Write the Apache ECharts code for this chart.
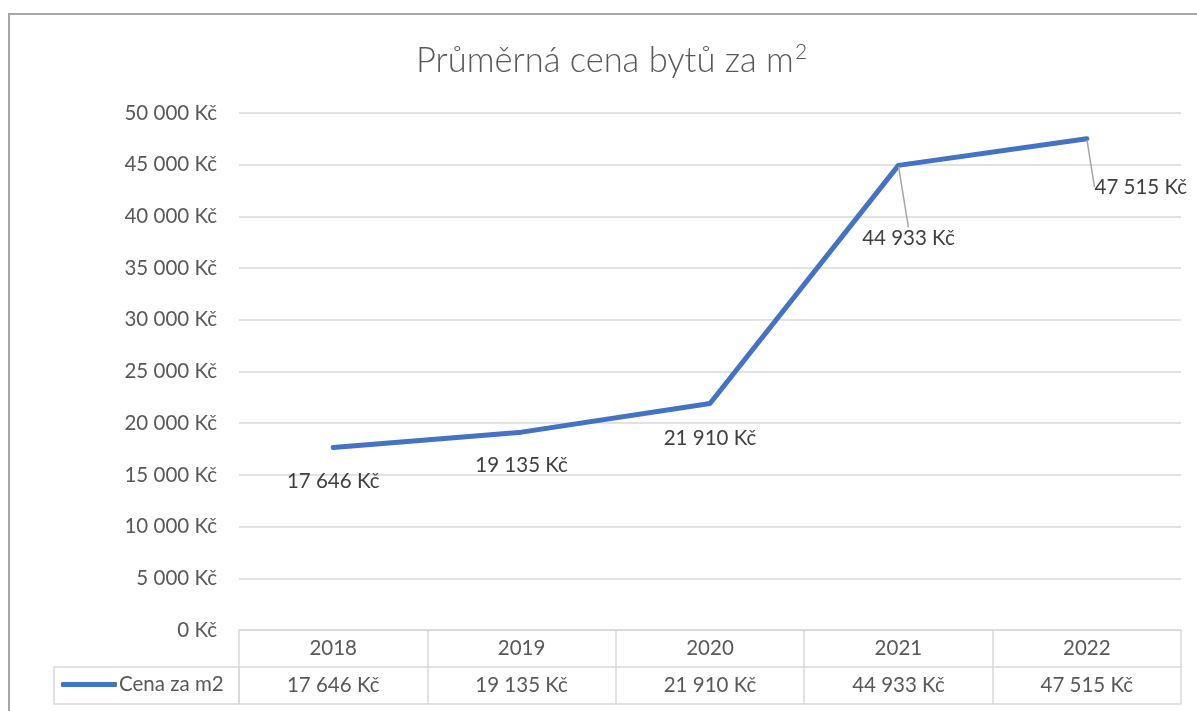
<!DOCTYPE html>
<html>
<head>
<meta charset="utf-8">
<script src="https://cdn.jsdelivr.net/npm/echarts@6/dist/echarts.min.js"></script>
<style>html,body{margin:0;padding:0;background:#fff}#c{width:1197px;height:711px}</style>
</head>
<body>
<div id="c"></div>
<script>
var categories = ['2018', '2019', '2020', '2021', '2022'];
var prices = [17646, 19135, 21910, 44933, 47515];
var seriesName = 'Cena za m2';
var yTicks = { min: 0, max: 50000, interval: 5000 };
// label shift (px) relative to default 'bottom' position, per point
var labelShift = [[0, 1], [0, 1], [0, 2], [10, 40], [54, 16]];
var labelLeader = [false, false, false, true, true];

function fmt(v) {
  return String(v).replace(/\B(?=(\d{3})+(?!\d))/g, ' ') + ' Kč';
}

var FONT = 'Lato';
var FS = 20.5;
var chart = echarts.init(document.getElementById('c'));
var grid = { left: 239, right: 16, top: 113, bottom: 81 };
var tableLine = '#d9d9d9';

chart.setOption({
  animation: false,
  textStyle: { fontFamily: FONT },
  title: {
    text: 'Průměrná cena bytů za m{sup|2}',
    left: 411,
    top: 37,
    textStyle: {
      fontFamily: FONT, fontSize: 34.5, fontWeight: 300, color: '#595959',
      rich: { sup: { fontFamily: FONT, fontSize: 21, fontWeight: 300, color: '#595959', verticalAlign: 'top', padding: [0, 0, 17, 1] } }
    }
  },
  grid: grid,
  legend: {
    left: 61, top: 674, padding: 0,
    itemWidth: 56, itemHeight: 5,
    icon: 'roundRect',
    itemGap: 0,
    textStyle: { fontFamily: FONT, fontSize: FS, color: '#595959', padding: [0, 0, 0, -3] },
    data: [seriesName]
  },
  xAxis: [
    {
      type: 'category', data: categories, position: 'bottom', boundaryGap: true,
      axisLine: { show: true, lineStyle: { color: tableLine, width: 1.5 } },
      axisTick: { show: true, length: 74, lineStyle: { color: tableLine, width: 1.5 } },
      axisLabel: { margin: 8, fontFamily: FONT, fontSize: FS, color: '#595959' },
      splitLine: { show: false }
    },
    {
      type: 'category', data: categories, position: 'bottom', offset: 37, boundaryGap: true,
      axisLine: { show: true, lineStyle: { color: tableLine, width: 1.5 } },
      axisTick: { show: false },
      axisLabel: {
        margin: 8, fontFamily: FONT, fontSize: FS, color: '#595959',
        formatter: function (val, idx) { return fmt(prices[idx]); }
      }
    },
    {
      type: 'category', data: categories, position: 'bottom', offset: 74, boundaryGap: true,
      axisLine: { show: true, lineStyle: { color: tableLine, width: 1.5 } },
      axisTick: { show: false }, axisLabel: { show: false }
    }
  ],
  yAxis: {
    type: 'value', min: yTicks.min, max: yTicks.max, interval: yTicks.interval,
    axisLine: { show: false }, axisTick: { show: false },
    axisLabel: { margin: 22, fontFamily: FONT, fontSize: FS, color: '#595959', formatter: fmt },
    splitLine: { lineStyle: { color: '#d9d9d9', width: 1.5 } }
  },
  series: [{
    name: seriesName,
    type: 'line',
    xAxisIndex: 0,
    data: prices.map(function (v, i) {
      return { value: v, labelLine: { show: labelLeader[i] } };
    }),
    symbol: 'circle', symbolSize: 2, showSymbol: true,
    lineStyle: { color: '#4472C4', width: 5, cap: 'round', join: 'round' },
    itemStyle: { color: '#4472C4' },
    label: {
      show: true, position: 'bottom', distance: 21,
      fontFamily: FONT, fontSize: FS, color: '#404040',
      formatter: function (p) { return fmt(p.value); }
    },
    labelLine: { lineStyle: { color: '#a6a6a6', width: 1.5 } },
    labelLayout: function (p) {
      var s = labelShift[p.dataIndex];
      return { dx: s[0], dy: s[1] };
    }
  }],
  graphic: [
    { type: 'rect', shape: { x: 9, y: 14, width: 1210, height: 720 }, style: { fill: 'none', stroke: '#a6a6a6', lineWidth: 2 }, silent: true },
    { type: 'rect', shape: { x: 54, y: 667, width: 185, height: 37 }, style: { fill: 'none', stroke: tableLine, lineWidth: 1.5 }, silent: true }
  ]
});
</script>
</body>
</html>
